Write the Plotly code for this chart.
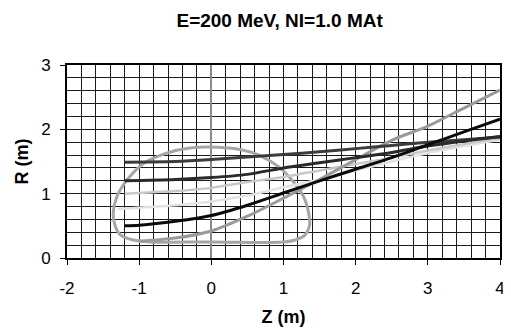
import plotly.graph_objects as go

# Trajectories (Z, R)
z_black = [-1.2, -1.0, -0.5, 0.0, 0.5, 1.0, 1.5, 2.0, 2.5, 3.0, 3.5, 4.0]
r_black = [0.50, 0.51, 0.57, 0.66, 0.82, 1.01, 1.20, 1.38, 1.56, 1.76, 1.96, 2.16]

z_top = [-1.2, -0.5, 0.0, 0.5, 1.0, 1.5, 2.0, 2.5, 3.0, 3.5, 4.0]
r_top = [1.49, 1.50, 1.53, 1.57, 1.61, 1.65, 1.70, 1.75, 1.80, 1.84, 1.88]

z_mid = [-1.2, -0.5, 0.0, 0.5, 1.0, 1.5, 2.0, 2.5, 3.0, 3.5, 4.0]
r_mid = [1.20, 1.22, 1.25, 1.30, 1.40, 1.48, 1.56, 1.64, 1.74, 1.82, 1.89]

z_light = [-1.2, -0.5, 0.0, 0.5, 1.0, 1.5, 2.0, 2.5, 3.0, 3.5, 4.0]
r_light = [1.00, 1.04, 1.09, 1.18, 1.26, 1.36, 1.46, 1.56, 1.67, 1.77, 1.86]

z_white = [-1.3, -0.5, 0.0, 0.5, 1.0, 1.5, 2.0, 2.5, 3.0, 3.5, 4.0]
r_white = [0.76, 0.82, 0.88, 0.97, 1.10, 1.22, 1.36, 1.50, 1.63, 1.74, 1.84]

z_gray = [-1.0, -0.5, 0.0, 0.5, 1.0, 1.5, 2.0, 2.5, 3.0, 3.5, 4.0]
r_gray = [0.26, 0.31, 0.42, 0.65, 0.93, 1.22, 1.53, 1.83, 2.05, 2.33, 2.61]

z_loop = [-0.85, 0.0, 1.0, 1.16, 1.30, 1.36, 1.35, 1.28, 1.12, 0.93, 0.66, 0.43, 0.1,
          -0.30, -0.62, -0.94, -1.17, -1.31, -1.36, -1.33, -1.26, -1.08, -0.85]
r_loop = [0.25, 0.25, 0.25, 0.28, 0.36, 0.50, 0.69, 0.95, 1.21, 1.42, 1.60, 1.68, 1.72,
          1.71, 1.63, 1.47, 1.21, 0.95, 0.69, 0.49, 0.36, 0.28, 0.25]

x_ticks = [-2, -1, 0, 1, 2, 3, 4]
x_labels = ["-2", "-1", "0", "1", "2", "3", "4"]
y_ticks = [0, 1, 2, 3]
y_labels = ["0", "1", "2", "3"]

fig = go.Figure()

def add(z, r, color, width, smooth=0.8):
    fig.add_trace(go.Scatter(x=z, y=r, mode="lines",
                             line=dict(color=color, width=width, shape="spline", smoothing=smooth),
                             hoverinfo="skip", showlegend=False))

add(z_loop, r_loop, "#a6a6a6", 3, 1.0)
add(z_white, r_white, "#e2e2e2", 2.5)
add(z_light, r_light, "#c8c8c8", 2.5)
add(z_gray, r_gray, "#9a9a9a", 3)
add(z_top, r_top, "#3c3c3c", 3)
add(z_mid, r_mid, "#2a2a2a", 3)
add(z_black, r_black, "#0a0a0a", 3)

font = "Liberation Sans, Arial, sans-serif"

# page body has an 8px margin, so the figure is shifted by 8px right and down
fig.update_layout(
    width=503, height=325,
    margin=dict(l=59, r=6, t=57, b=75),
    paper_bgcolor="white", plot_bgcolor="white",
    font=dict(family=font, size=17, color="black"),
    title=dict(text="<b>E=200 MeV, NI=1.0 MAt</b>", x=(255 - 8) / 503, xanchor="center", xref="paper",
               y=1 - 12 / 325, yanchor="middle", font=dict(size=19, family=font)),
    xaxis=dict(range=[-2, 4], tickvals=x_ticks, ticktext=x_labels, ticks="outside", ticklen=5,
               tickcolor="black", ticklabelstandoff=9,
               showgrid=False, zeroline=True, zerolinecolor="#8a8a8a", zerolinewidth=2,
               showline=True, mirror=True, linecolor="black", linewidth=2,
               minor=dict(dtick=0.2, tick0=0, showgrid=True, gridcolor="#1a1a1a", gridwidth=1),
               title=dict(text="<b>Z (m)</b>", font=dict(size=18), standoff=13),
               fixedrange=True),
    yaxis=dict(range=[0, 3], tickvals=y_ticks, ticktext=y_labels, ticks="outside", ticklen=5,
               tickcolor="black", ticklabelstandoff=6,
               showgrid=False, zeroline=False,
               showline=True, mirror=True, linecolor="black", linewidth=2,
               minor=dict(dtick=0.2, tick0=0, showgrid=True, gridcolor="#1a1a1a", gridwidth=1),
               title=dict(text="<b>R (m)</b>", font=dict(size=18), standoff=8),
               fixedrange=True),
)

fig.write_html("out.html")
